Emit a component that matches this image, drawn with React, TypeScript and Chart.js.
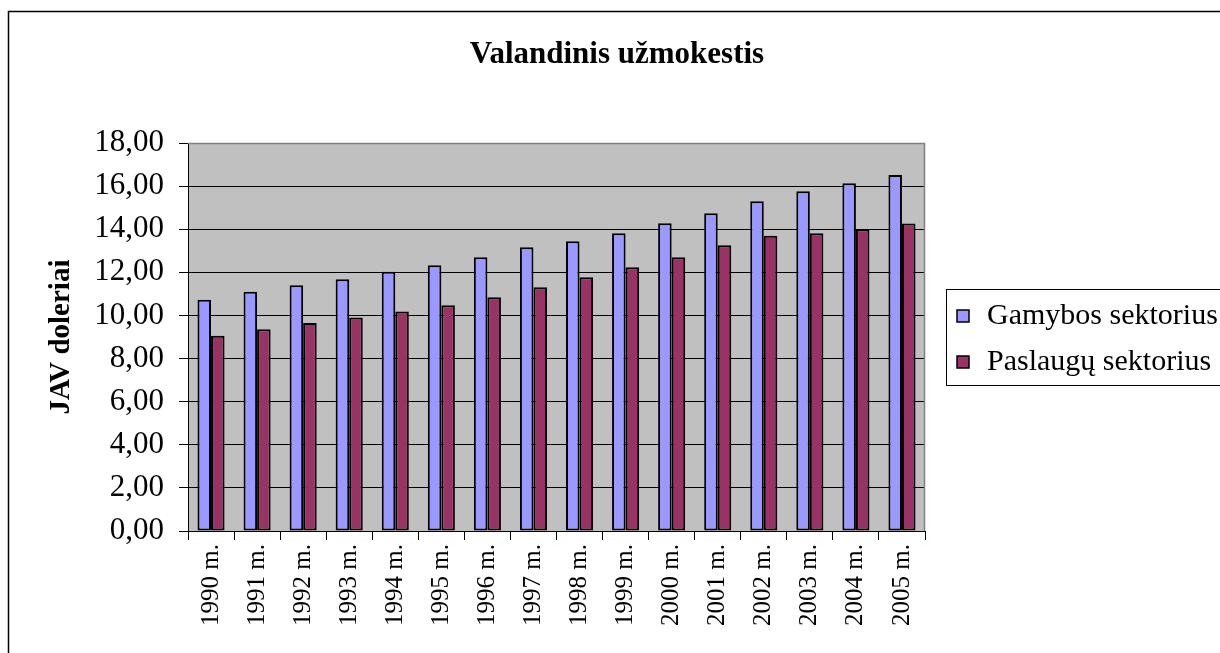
import React, { useEffect, useRef } from "react";
import { Chart, registerables } from "chart.js";

Chart.register(...registerables);

const categories = [
  "1990 m.", "1991 m.", "1992 m.", "1993 m.", "1994 m.", "1995 m.", "1996 m.", "1997 m.",
  "1998 m.", "1999 m.", "2000 m.", "2001 m.", "2002 m.", "2003 m.", "2004 m.", "2005 m.",
];
const gamybosValues = [10.73, 11.1, 11.4, 11.68, 12.03, 12.33, 12.7, 13.16, 13.44, 13.81, 14.28, 14.74, 15.3, 15.76, 16.13, 16.51];
const paslauguValues = [9.06, 9.36, 9.65, 9.9, 10.18, 10.47, 10.84, 11.31, 11.77, 12.24, 12.7, 13.26, 13.7, 13.81, 14.0, 14.26];
const seriesNames = ["Gamybos sektorius", "Paslaugų sektorius"];
const seriesColors = ["#9999FF", "#993366"];
const chartTitle = "Valandinis užmokestis";
const yAxisTitle = "JAV doleriai";
const yMin = 0;
const yMax = 18;
const yStep = 2;

const SERIF = "'Liberation Serif', 'Times New Roman', serif";

const framePlugin = {
  id: "framePlugin",
  beforeDraw(chart: any) {
    const { ctx, chartArea } = chart;
    ctx.save();
    ctx.fillStyle = "#ffffff";
    ctx.fillRect(0, 0, chart.width, chart.height);
    ctx.fillStyle = "#C0C0C0";
    ctx.fillRect(chartArea.left, chartArea.top, chartArea.right - chartArea.left, chartArea.bottom - chartArea.top);
    ctx.restore();
  },
  afterDraw(chart: any) {
    const { ctx, chartArea } = chart;
    ctx.save();
    // plot area top/right border
    ctx.strokeStyle = "#808080";
    ctx.lineWidth = 1.5;
    ctx.beginPath();
    ctx.moveTo(chartArea.left, chartArea.top + 0.5);
    ctx.lineTo(chartArea.right - 0.5, chartArea.top + 0.5);
    ctx.lineTo(chartArea.right - 0.5, chartArea.bottom);
    ctx.stroke();
    // outer frame
    ctx.strokeStyle = "#000000";
    ctx.lineWidth = 1.5;
    ctx.beginPath();
    ctx.moveTo(8.5, chart.height + 5);
    ctx.lineTo(8.5, 11.5);
    ctx.lineTo(chart.width + 5, 11.5);
    ctx.stroke();
    // title
    ctx.fillStyle = "#000000";
    ctx.font = `bold 31px ${SERIF}`;
    ctx.textAlign = "center";
    ctx.textBaseline = "middle";
    ctx.fillText(chartTitle, 617, 55);
    // legend
    const lx = 946.5;
    const ly = 289.5;
    ctx.lineWidth = 1;
    ctx.strokeStyle = "#000000";
    ctx.strokeRect(lx, ly, 300, 96);
    ctx.font = `30px ${SERIF}`;
    ctx.textBaseline = "middle";
    ctx.textAlign = "left";
    chart.data.datasets.forEach((ds: any, i: number) => {
      const cy = 316 + i * 46;
      ctx.fillStyle = ds.backgroundColor;
      ctx.fillRect(957, cy - 6, 12, 12);
      ctx.strokeStyle = "#000000";
      ctx.lineWidth = 1.5;
      ctx.strokeRect(957, cy - 6, 12, 12);
      ctx.fillStyle = "#000000";
      ctx.fillText(ds.label, 987, cy);
    });
    ctx.restore();
  },
};

export default function App() {
  const canvasRef = useRef<HTMLCanvasElement | null>(null);

  useEffect(() => {
    document.body.style.margin = "0";
    const canvas = canvasRef.current;
    if (!canvas) return;
    const chart = new Chart(canvas, {
      type: "bar",
      data: {
        labels: categories,
        datasets: [
          {
            label: seriesNames[0],
            data: gamybosValues,
            backgroundColor: seriesColors[0],
            borderColor: "#000000",
            borderWidth: 2,
            borderSkipped: false,
            barPercentage: 1,
            categoryPercentage: 0.588,
          },
          {
            label: seriesNames[1],
            data: paslauguValues,
            backgroundColor: seriesColors[1],
            borderColor: "#000000",
            borderWidth: 2,
            borderSkipped: false,
            barPercentage: 1,
            categoryPercentage: 0.588,
          },
        ],
      },
      options: {
        animation: false,
        responsive: false,
        maintainAspectRatio: false,
        devicePixelRatio: 1,
        layout: { padding: { left: 0, right: 295, top: 143, bottom: 0 } },
        plugins: {
          legend: { display: false },
          tooltip: { enabled: false },
          title: { display: false },
        },
        scales: {
          x: {
            offset: true,
            grid: {
              display: true,
              offset: true,
              drawOnChartArea: false,
              drawTicks: true,
              tickLength: 9,
              color: "#000000",
            },
            border: { display: true, color: "#000000", width: 1 },
            ticks: {
              color: "#000000",
              font: { family: SERIF, size: 25 },
              minRotation: 90,
              maxRotation: 90,
              padding: 4,
              autoSkip: false,
            },
            afterFit: (s: any) => {
              s.height = 122;
            },
          },
          y: {
            min: yMin,
            max: yMax,
            grid: {
              color: "#000000",
              tickLength: 9,
              drawTicks: true,
            },
            border: { display: true, color: "#000000", width: 1 },
            ticks: {
              stepSize: yStep,
              color: "#000000",
              font: { family: SERIF, size: 31 },
              padding: 15,
              callback: (v: any) => Number(v).toFixed(2).replace(".", ","),
            },
            title: {
              display: true,
              text: yAxisTitle,
              color: "#000000",
              font: { family: SERIF, size: 29, weight: "bold" },
              padding: { top: 44, bottom: 0 },
            },
            afterFit: (s: any) => {
              s.width = 188;
            },
          },
        },
      },
      plugins: [framePlugin],
    });
    return () => chart.destroy();
  }, []);

  return (
    <div style={{ position: "relative", width: 1220, height: 653 }}>
      <canvas ref={canvasRef} width={1220} height={653} style={{ display: "block", width: 1220, height: 653 }} />
    </div>
  );
}
